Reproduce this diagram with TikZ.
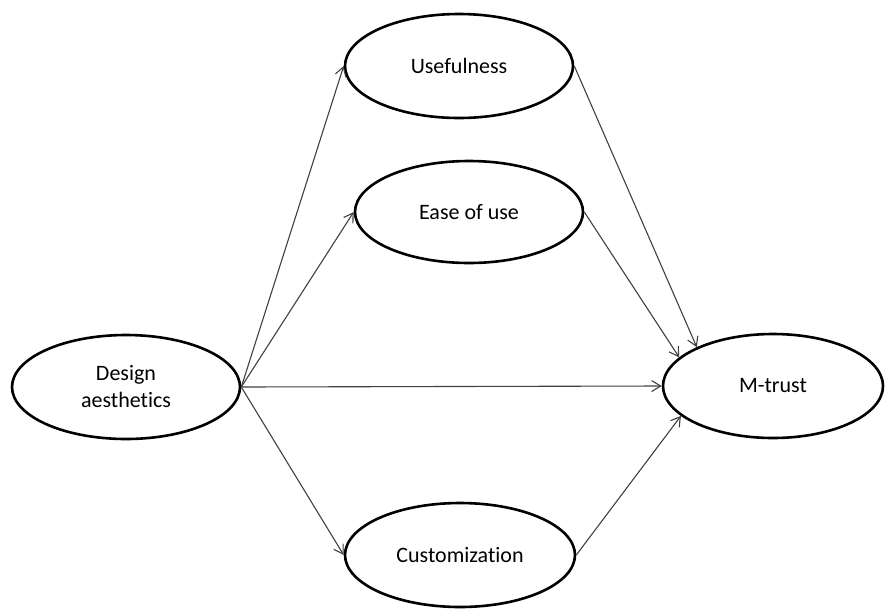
\documentclass[tikz,border=0pt]{standalone}
\usepackage{fontspec}
\setmainfont{Carlito}[Ligatures=NoCommon]
\usetikzlibrary{shapes.geometric,arrows.meta}
\begin{document}
\begin{tikzpicture}[x=1pt,y=-1pt,
  construct/.style={ellipse, draw=black, line width=2.6pt, fill=white,
    inner sep=0pt, align=center, font=\fontsize{22}{27}\selectfont},
  path/.style={draw=black!75, line width=1.1pt,
    -{Straight Barb[length=9pt,width=11pt,line width=1.1pt]}}]
  \useasboundingbox (0,0) rectangle (885,608);
  % constructs of the model
  \node[construct, minimum width=228pt, minimum height=104pt] (design) at (126,387) {Design\\aesthetics};
  \node[construct, minimum width=228pt, minimum height=104pt] (useful) at (459,66) {Usefulness};
  \node[construct, minimum width=228pt, minimum height=102pt] (ease) at (469,212) {Ease of use};
  \node[construct, minimum width=230pt, minimum height=104pt] (custom) at (460,555) {Customization};
  \node[construct, minimum width=220pt, minimum height=104pt] (trust) at (773,386) {M-trust};
  % hypothesised paths
  \draw[path] (design.east) -- (useful.west);
  \draw[path] (design.east) -- (ease.west);
  \draw[path] (design.east) -- (trust.west);
  \draw[path] (design.east) -- (custom.west);
  \draw[path] (useful.east) -- (trust.153);
  \draw[path] (ease.east) -- (trust.163);
  \draw[path] (custom.east) -- (trust.198);
\end{tikzpicture}
\end{document}
